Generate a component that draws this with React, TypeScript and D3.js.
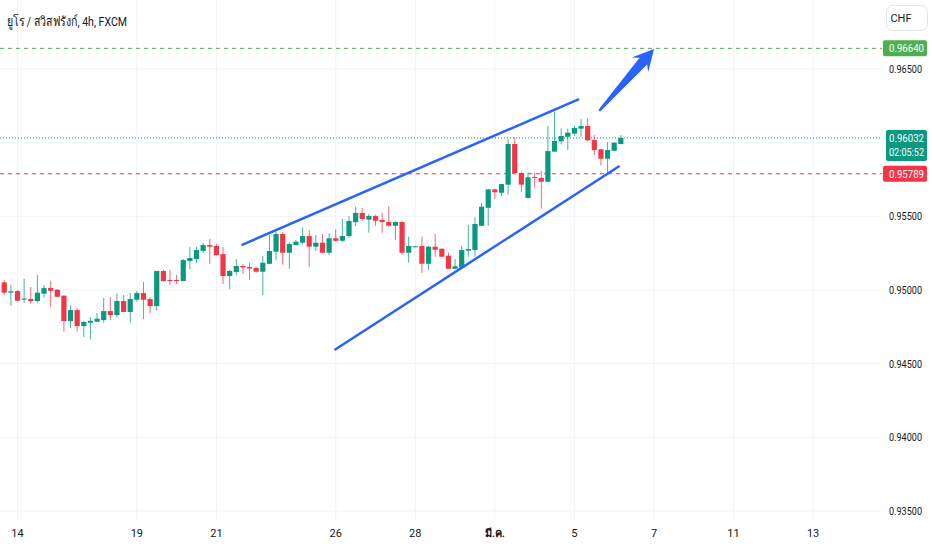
import * as d3 from "d3";

const W = 932;
const H = 550;
const paneRight = 882;
const paneBottom = 521;
const font = "Roboto, 'Noto Sans', 'DejaVu Sans', sans-serif";

const title = "ยูโร / สวิสฟรังก์, 4h, FXCM";
const currency = "CHF";

// 4h bars; bar 0 is the first bar of the 14th
const firstBar = -2;
const open = [
  0.95052, 0.94982, 0.94993, 0.94935, 0.94939, 0.94925, 0.94975, 0.95013, 0.95002, 0.94961,
  0.94789, 0.94864, 0.94755, 0.94778, 0.94785, 0.94796, 0.94857, 0.9483, 0.94925, 0.94851,
  0.94934, 0.94979, 0.94939, 0.94891, 0.95129, 0.95068, 0.95068, 0.95061, 0.95197, 0.9521,
  0.95265, 0.95305, 0.95299, 0.95244, 0.95095, 0.95122, 0.95163, 0.95156, 0.95149, 0.95124,
  0.95178, 0.9526, 0.9538, 0.95253, 0.95305, 0.95321, 0.95366, 0.95294, 0.95321, 0.95253,
  0.95351, 0.95334, 0.95366, 0.95461, 0.95523, 0.95477, 0.95502, 0.95475, 0.95461, 0.95436,
  0.95461, 0.95253, 0.95292, 0.95299, 0.95178, 0.95294, 0.9528, 0.95233, 0.95144, 0.95151,
  0.95267, 0.95271, 0.95436, 0.95558, 0.95683, 0.9566, 0.95715, 0.95991, 0.95794, 0.95624,
  0.95767, 0.9576, 0.95735, 0.95939, 0.96009, 0.9604, 0.96061, 0.96095, 0.96113, 0.96018,
  0.95955, 0.95891, 0.95945, 0.95991,
];
const high = [
  0.95068, 0.95034, 0.95, 0.95075, 0.9502, 0.95102, 0.95034, 0.95061, 0.95007, 0.94966,
  0.94898, 0.94878, 0.94791, 0.94817, 0.94844, 0.94946, 0.94952, 0.94979, 0.94966, 0.94979,
  0.94993, 0.95054, 0.94952, 0.9513, 0.95136, 0.95136, 0.95102, 0.9521, 0.95292, 0.95292,
  0.95319, 0.95346, 0.95312, 0.95292, 0.95136, 0.9521, 0.95176, 0.95185, 0.95158, 0.95231,
  0.95373, 0.95396, 0.95392, 0.95324, 0.95339, 0.95425, 0.95407, 0.95373, 0.9538, 0.95385,
  0.95412, 0.95482, 0.95502, 0.95565, 0.95556, 0.95516, 0.95511, 0.95525, 0.9557, 0.95468,
  0.95466, 0.95362, 0.95299, 0.95362, 0.95299, 0.95382, 0.95283, 0.95253, 0.9521, 0.95299,
  0.95441, 0.95493, 0.95592, 0.95685, 0.95685, 0.9572, 0.96023, 0.96036, 0.95803, 0.95799,
  0.95796, 0.9581, 0.96115, 0.9621, 0.96097, 0.96097, 0.96113, 0.96161, 0.96169, 0.96052,
  0.95957, 0.96004, 0.96002, 0.96052,
];
const low = [
  0.94968, 0.94893, 0.94925, 0.94914, 0.94907, 0.94914, 0.94948, 0.94884, 0.94952, 0.94717,
  0.94742, 0.94717, 0.94681, 0.94663, 0.94783, 0.94778, 0.94796, 0.94812, 0.94849, 0.94778,
  0.9492, 0.94803, 0.94844, 0.94859, 0.95059, 0.95034, 0.95041, 0.95059, 0.95142, 0.95183,
  0.95251, 0.95176, 0.95235, 0.95041, 0.95007, 0.951, 0.95108, 0.95068, 0.95117, 0.94966,
  0.95176, 0.95199, 0.95172, 0.95144, 0.95301, 0.9531, 0.95158, 0.95265, 0.95249, 0.95239,
  0.95328, 0.95327, 0.95353, 0.95434, 0.95475, 0.95389, 0.95436, 0.95389, 0.9543, 0.95339,
  0.95239, 0.95185, 0.9529, 0.95117, 0.95136, 0.95226, 0.95224, 0.95142, 0.95142, 0.9515,
  0.95226, 0.95226, 0.95434, 0.95436, 0.95618, 0.95638, 0.95647, 0.95792, 0.95665, 0.95622,
  0.95694, 0.95552, 0.95733, 0.95937, 0.95989, 0.9595, 0.96047, 0.9604, 0.96011, 0.95914,
  0.95846, 0.95787, 0.95943, 0.95989,
];
const close = [
  0.94982, 0.94991, 0.94927, 0.94942, 0.94925, 0.94982, 0.95013, 0.94995, 0.94954, 0.94789,
  0.94864, 0.94755, 0.94783, 0.94791, 0.94805, 0.94857, 0.9483, 0.94925, 0.94851, 0.94939,
  0.94979, 0.94934, 0.94891, 0.95129, 0.95061, 0.95061, 0.95061, 0.95203, 0.95217, 0.95271,
  0.95305, 0.95294, 0.95237, 0.95095, 0.95129, 0.95163, 0.95153, 0.95146, 0.95124, 0.95185,
  0.95265, 0.9538, 0.95253, 0.95312, 0.95328, 0.95366, 0.95294, 0.95321, 0.95253, 0.95351,
  0.95334, 0.95366, 0.95468, 0.95523, 0.95482, 0.95502, 0.9547, 0.95461, 0.95436, 0.95461,
  0.95253, 0.95299, 0.95297, 0.95178, 0.95294, 0.95273, 0.95226, 0.95144, 0.95161, 0.95271,
  0.95278, 0.95448, 0.95565, 0.95683, 0.95663, 0.95719, 0.95991, 0.95794, 0.95715, 0.95765,
  0.9576, 0.95735, 0.95943, 0.96011, 0.96045, 0.96068, 0.961, 0.96113, 0.96016, 0.9595,
  0.95891, 0.9595, 0.96, 0.96032,
];

const priceTicks = [0.935, 0.94, 0.945, 0.95, 0.955, 0.96, 0.965];
const timeTicks = [0, 18, 30, 48, 60, 72, 84, 96, 108, 120];
const timeLabels = ["14", "19", "21", "26", "28", "มี.ค.", "5", "7", "11", "13"];

const targetPrice = 0.9664;
const supportPrice = 0.95789;
const lastPrice = 0.96032;
const countdown = "02:05:52";

// drawings as [bar, price]
const upperLine = [
  [33.8, 0.95305],
  [84.7, 0.96296],
];
const lowerLine = [
  [47.8, 0.94593],
  [90.8, 0.95842],
];
const arrowLine = [
  [87.75, 0.96217],
  [96.0, 0.96635],
];

const UP = "#089981";
const DOWN = "#f23645";
const BLUE = "#2962ff";
const GRID = "#f0f3fa";
const TEXT = "#131722";

const x = d3.scaleLinear().domain([0, 120]).range([17.5, 17.5 + 120 * 6.63]);
const y = d3.scaleLinear().domain([0.935, 0.965]).range([511, 69]);

const fmt = d3.format(".5f");

const bars = open.map((o, i) => ({
  i: firstBar + i,
  o,
  h: high[i],
  l: low[i],
  c: close[i],
}));

const arrowPath = () => {
  const [a, b] = arrowLine;
  const tx = x(a[0]);
  const ty = y(a[1]);
  const px = x(b[0]);
  const py = y(b[1]);
  const len = Math.hypot(px - tx, py - ty);
  const ux = (px - tx) / len;
  const uy = (py - ty) / len;
  const nx = -uy;
  const ny = ux;
  const pt = (along: number, side: number) =>
    [px + ux * along + nx * side, py + uy * along + ny * side].join(",");
  const pts = [
    [tx + nx * 1.2, ty + ny * 1.2].join(","),
    pt(-16, 5),
    pt(-21, 11),
    pt(0, 0),
    pt(-21, -11),
    pt(-16, -5),
    [tx - nx * 1.2, ty - ny * 1.2].join(","),
  ];
  return "M" + pts.join("L") + "Z";
};

const PriceLabel = ({ price, fill, x0, lines }: { price: number; fill: string; x0: number; lines: string[] }) => {
  const cy = y(price);
  const h = lines.length === 1 ? 16 : 31;
  const top = cy - 8;
  return (
    <g>
      <rect x={x0} y={top} width={927 - x0} height={h} rx={2} fill={fill} />
      {lines.map((t, k) => (
        <text
          key={k}
          x={889}
          y={top + 12 + k * 14.5}
          fill="#ffffff"
          fontSize={11.5}
          textLength={35}
          lengthAdjust="spacingAndGlyphs"
        >
          {t}
        </text>
      ))}
    </g>
  );
};

export default function App() {
  const hidden = (p: number) =>
    [targetPrice, lastPrice, supportPrice].some((q) => Math.abs(y(p) - y(q)) < 14) ||
    (Math.abs(y(p) - y(lastPrice)) < 26 && y(p) > y(lastPrice));
  const line = d3
    .line<number[]>()
    .x((d) => x(d[0]))
    .y((d) => y(d[1]));

  return (
    <div style={{ position: "absolute", left: 0, top: 0 }}>
      <svg width={W} height={H} fontFamily={font} style={{ display: "block", background: "#ffffff" }}>
        {/* grid */}
        {priceTicks.map((p) => (
          <line key={p} x1={0} x2={paneRight} y1={y(p)} y2={y(p)} stroke={GRID} />
        ))}
        {timeTicks.map((t) => (
          <line key={t} x1={x(t)} x2={x(t)} y1={0} y2={paneBottom} stroke={GRID} />
        ))}

        {/* horizontal levels */}
        <line x1={0} x2={paneRight} y1={y(targetPrice)} y2={y(targetPrice)} stroke="#4caf50" strokeDasharray="4 4" />
        <line x1={0} x2={paneRight} y1={y(supportPrice)} y2={y(supportPrice)} stroke={DOWN} strokeDasharray="4 4" />
        <line x1={0} x2={paneRight} y1={y(lastPrice)} y2={y(lastPrice)} stroke={UP} strokeDasharray="1 2" />

        {/* candles */}
        {bars.map((b) => {
          const col = b.c >= b.o ? UP : DOWN;
          const cx = x(b.i);
          const top = y(Math.max(b.o, b.c));
          const bot = y(Math.min(b.o, b.c));
          return (
            <g key={b.i}>
              <line x1={cx} x2={cx} y1={y(b.h)} y2={y(b.l)} stroke={col} strokeOpacity={0.75} />
              <rect x={cx - 2.6} y={top} width={5.2} height={Math.max(1, bot - top)} fill={col} />
            </g>
          );
        })}

        {/* drawings */}
        <path d={line(upperLine) ?? ""} stroke={BLUE} strokeWidth={2.5} fill="none" />
        <path d={line(lowerLine) ?? ""} stroke={BLUE} strokeWidth={2.5} fill="none" />
        <path d={arrowPath()} fill={BLUE} />

        {/* title */}
        <text x={7} y={26} fontSize={13.5} fill={TEXT} textLength={120} lengthAdjust="spacingAndGlyphs">
          {title}
        </text>

        {/* price axis */}
        <rect x={886.5} y={5.5} width={41} height={25} rx={6} fill="#ffffff" stroke="#e0e3eb" />
        <text x={901} y={22} fontSize={11} fill={TEXT} textAnchor="middle">
          {currency}
        </text>
        {priceTicks
          .filter((p) => !hidden(p))
          .map((p) => (
            <text
              key={p}
              x={889}
              y={y(p) + 4}
              fontSize={11.5}
              fill={TEXT}
              textLength={33}
              lengthAdjust="spacingAndGlyphs"
            >
              {fmt(p)}
            </text>
          ))}
        <PriceLabel price={targetPrice} fill="#4caf50" x0={883} lines={[fmt(targetPrice)]} />
        <PriceLabel price={lastPrice} fill={UP} x0={886} lines={[fmt(lastPrice), countdown]} />
        <PriceLabel price={supportPrice} fill={DOWN} x0={883} lines={[fmt(supportPrice)]} />

        {/* time axis */}
        {timeTicks.map((t, k) => (
          <text
            key={t}
            x={x(t)}
            y={537}
            fontSize={11}
            fill={TEXT}
            textAnchor="middle"
            fontWeight={k === 5 ? 600 : 400}
          >
            {timeLabels[k]}
          </text>
        ))}
      </svg>
    </div>
  );
}
